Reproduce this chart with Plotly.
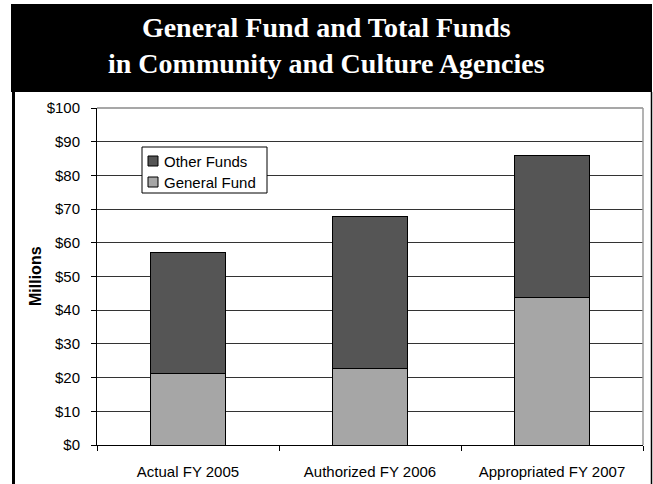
import plotly.graph_objects as go

# Funding by fiscal year, in millions of dollars
categories = ["Actual FY 2005", "Authorized FY 2006", "Appropriated FY 2007"]
general_fund = [21.3, 22.6, 43.7]
other_funds = [35.7, 45.1, 42.3]
y_tick_values = [0, 10, 20, 30, 40, 50, 60, 70, 80, 90, 100]
y_tick_labels = ["$0", "$10", "$20", "$30", "$40", "$50", "$60", "$70", "$80", "$90", "$100"]
series_names = ["Other Funds", "General Fund"]
series_colors = ["#555555", "#a6a6a6"]

W, H = 653, 484
L, R, T, B = 97, 10, 108, 39
PW, PH = W - L - R, H - T - B


def px(x):
    return (x - L) / PW


def py(y):
    return (H - B - y) / PH


fig = go.Figure()
fig.add_trace(go.Bar(
    x=categories, y=general_fund, name="General Fund",
    marker=dict(color=series_colors[1], line=dict(color="black", width=1)),
))
fig.add_trace(go.Bar(
    x=categories, y=other_funds, name="Other Funds",
    marker=dict(color=series_colors[0], line=dict(color="black", width=1)),
))

shapes = [
    # title band
    dict(type="rect", xref="paper", yref="paper",
         x0=px(11), x1=px(652), y0=py(92), y1=py(4),
         fillcolor="black", line=dict(width=0), layer="below"),
    # frame sides
    dict(type="line", xref="paper", yref="paper",
         x0=px(13.5), x1=px(13.5), y0=py(92), y1=py(490),
         line=dict(color="black", width=3)),
    dict(type="line", xref="paper", yref="paper",
         x0=px(651.5), x1=px(651.5), y0=py(92), y1=py(490),
         line=dict(color="black", width=1.5)),
    # plot area border (top / right)
    dict(type="line", xref="paper", yref="paper",
         x0=0, x1=1, y0=1, y1=1, line=dict(color="#8a8a8a", width=1.5)),
    dict(type="line", xref="paper", yref="paper",
         x0=1, x1=1, y0=0, y1=1, line=dict(color="#9a9a9a", width=1.5)),
    # legend box
    dict(type="rect", xref="paper", yref="paper",
         x0=px(142), x1=px(267), y0=py(193), y1=py(147),
         fillcolor="white", line=dict(color="black", width=1)),
]

annotations = [
    dict(text="<b>General Fund and Total Funds<br>in Community and Culture Agencies</b>",
         xref="paper", yref="paper", x=px(326), y=py(45),
         xanchor="center", yanchor="middle", showarrow=False,
         font=dict(family="Liberation Serif", size=28, color="white")),
    dict(text="<b>Millions</b>", xref="paper", yref="paper",
         x=px(35), y=py(276), xanchor="center", yanchor="middle",
         textangle=-90, showarrow=False,
         font=dict(family="Liberation Sans", size=16, color="black")),
]

# legend entries: swatch + label
for i, (name, color) in enumerate(zip(series_names, series_colors)):
    cy = 161 + 21 * i
    shapes.append(dict(type="rect", xref="paper", yref="paper",
                       x0=px(148), x1=px(158), y0=py(cy + 5), y1=py(cy - 5),
                       fillcolor=color, line=dict(color="black", width=1)))
    annotations.append(dict(text=name, xref="paper", yref="paper",
                            x=px(162), y=py(cy), xanchor="left", yanchor="middle",
                            showarrow=False,
                            font=dict(family="Liberation Sans", size=15, color="black")))

fig.update_layout(
    width=W, height=H,
    margin=dict(l=L, r=R, t=T, b=B, pad=0),
    barmode="stack", bargap=0.593,
    plot_bgcolor="white", paper_bgcolor="white",
    font=dict(family="Liberation Sans", size=15, color="black"),
    shapes=shapes, annotations=annotations,
    showlegend=False,
    yaxis=dict(
        range=[0, 100], tickvals=y_tick_values, ticktext=y_tick_labels,
        showgrid=True, gridcolor="#333333", gridwidth=1,
        showline=True, linecolor="black", linewidth=1,
        ticks="outside", ticklen=5, tickcolor="black",
        ticklabelstandoff=8, zeroline=False, automargin=False,
        tickfont=dict(size=15),
    ),
    xaxis=dict(
        showline=True, linecolor="black", linewidth=1,
        ticks="outside", ticklen=5, tickcolor="black",
        tickson="boundaries", ticklabelstandoff=13, automargin=False,
        tickfont=dict(size=15),
    ),
)

fig.write_html("out.html")
